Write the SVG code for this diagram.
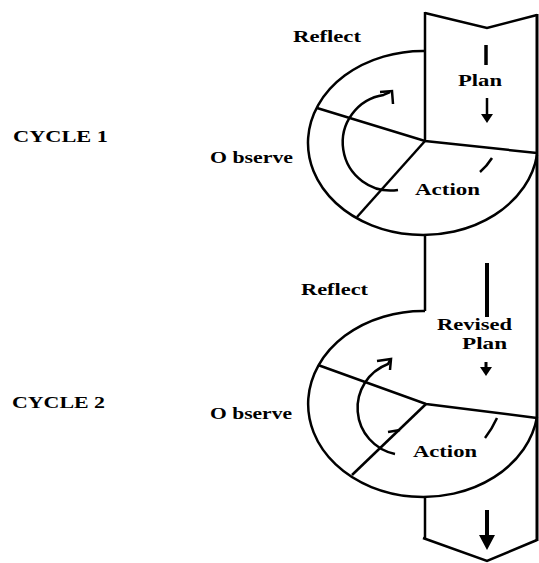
<svg xmlns="http://www.w3.org/2000/svg" width="539" height="563" viewBox="0 0 539 563">
<style>
.ln{fill:none;stroke:#000;stroke-width:2.5;stroke-linecap:butt;stroke-linejoin:miter}
.t{font-family:"Liberation Serif","Times New Roman",serif;font-weight:bold;font-size:17px;fill:#000}
.hd{fill:#000;stroke:none}
</style>
<rect width="539" height="563" fill="#fff"/>
<g id="strip">
<polyline class="ln" points="425,13 487,28 537,15"/>
<line class="ln" x1="425" y1="12" x2="425" y2="141"/>
<line class="ln" x1="425" y1="235" x2="425" y2="311"/>
<line class="ln" x1="425" y1="497" x2="425" y2="539"/>
<line class="ln" x1="537" y1="14" x2="537" y2="541" style="stroke-width:3"/>
<polyline class="ln" points="423,538 487,561 537,540"/>
</g>
<g id="cycle1">
<path class="ln" d="M425,51 A115,92 0 1 0 537,155"/>
<polyline class="ln" points="317,108 425,141 537,153"/>
<line class="ln" x1="425" y1="141" x2="357" y2="217"/>
<path class="ln" d="M492,158 Q487,166 480,172"/>
</g>
<g id="cycle2">
<path class="ln" d="M425,311 A115,93 0 1 0 537,417"/>
<polyline class="ln" points="318,365 426,404 537,418"/>
<line class="ln" x1="426" y1="404" x2="352" y2="475"/>
<path class="ln" d="M497,418 Q492,429 485,438"/>
<line class="ln" x1="388" y1="432" x2="400" y2="430"/>
</g>
<g id="connectors">
<path class="ln" d="M398,190 A48,48 0 0 1 383.6,94.9 L390,92"/>
<polyline class="ln" points="380,92 392,91 393,104"/>
<path class="ln" d="M395,454 A47,47 0 0 1 388,364 L390,360"/>
<polyline class="ln" points="377,361 391,359 390,370"/>
<line class="ln" x1="486" y1="45" x2="486" y2="65" style="stroke-width:3.5"/>
<line class="ln" x1="487" y1="98" x2="487" y2="115"/>
<polygon class="hd" points="481,114 493,114 487,123"/>
<line class="ln" x1="487" y1="263" x2="487" y2="317" style="stroke-width:4"/>
<line class="ln" x1="486" y1="362" x2="486" y2="368" style="stroke-width:3"/>
<polygon class="hd" points="480,367 492,367 486,376"/>
<line class="ln" x1="487" y1="510" x2="487" y2="537" style="stroke-width:4"/>
<polygon class="hd" points="479,535 495,535 487,550"/>
</g>
<g id="labels">
<text class="t" x="293" y="42" textLength="68" lengthAdjust="spacingAndGlyphs">Reflect</text>
<text class="t" x="458" y="86" textLength="44" lengthAdjust="spacingAndGlyphs">Plan</text>
<text class="t" x="415" y="195" textLength="65" lengthAdjust="spacingAndGlyphs">Action</text>
<text class="t" x="210" y="163" textLength="83" lengthAdjust="spacingAndGlyphs">O bserve</text>
<text class="t" x="13" y="142" textLength="95" lengthAdjust="spacingAndGlyphs">CYCLE 1</text>
<text class="t" x="301" y="295" textLength="67" lengthAdjust="spacingAndGlyphs">Reflect</text>
<text class="t" x="437" y="330" textLength="75" lengthAdjust="spacingAndGlyphs">Revised</text>
<text class="t" x="462" y="349" textLength="45" lengthAdjust="spacingAndGlyphs">Plan</text>
<text class="t" x="413" y="457" textLength="64" lengthAdjust="spacingAndGlyphs">Action</text>
<text class="t" x="12" y="408" textLength="93" lengthAdjust="spacingAndGlyphs">CYCLE 2</text>
<text class="t" x="210" y="419" textLength="82" lengthAdjust="spacingAndGlyphs">O bserve</text>
</g>
</svg>
